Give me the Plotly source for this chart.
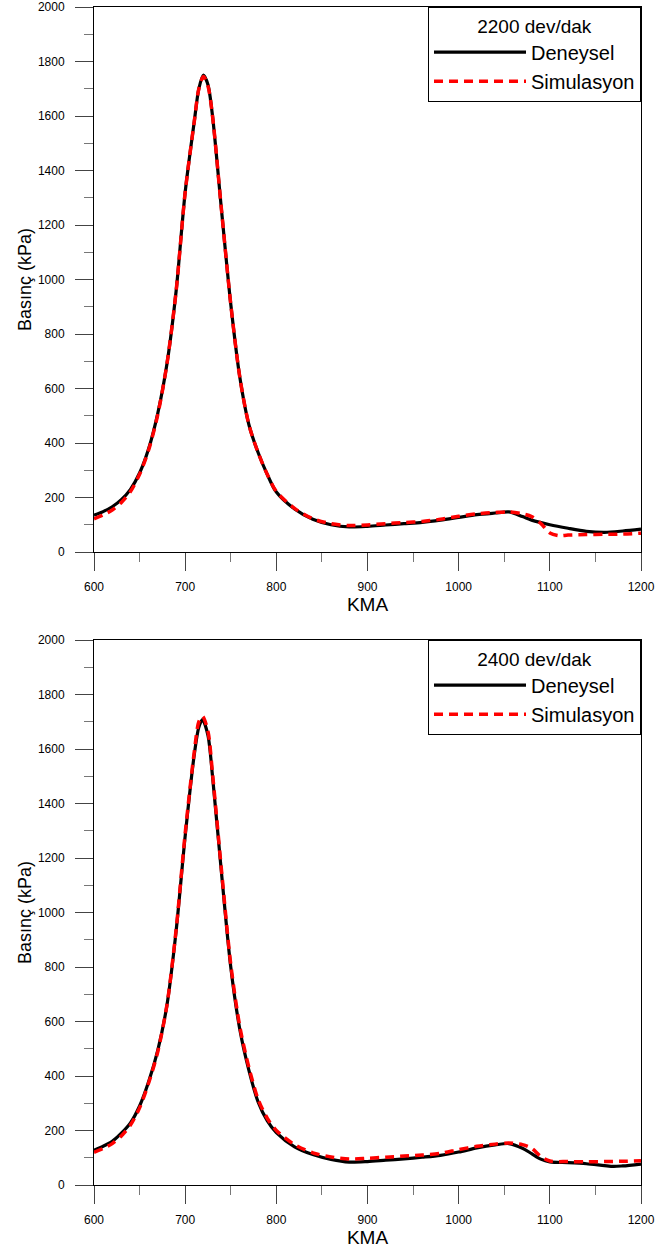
import plotly.graph_objects as go
from plotly.subplots import make_subplots

# ---- Data: 2200 dev/dak ----
kma_exp_2200 = [600, 610, 620, 630, 640, 650, 660, 670, 680, 690, 700, 710, 715, 720, 725, 730, 740, 750, 760, 770, 780, 790, 800, 820, 840, 860, 880, 900, 920, 940, 960, 980, 1000, 1020, 1040, 1055, 1070, 1080, 1100, 1120, 1140, 1160, 1180, 1200]
p_exp_2200 = [135, 148, 166, 192, 230, 290, 380, 510, 690, 955, 1320, 1580, 1700, 1750, 1715, 1600, 1250, 910, 640, 466, 365, 285, 220, 158, 120, 100, 92, 94, 99, 104, 109, 117, 127, 137, 143, 147, 130, 117, 100, 87, 76, 72, 77, 84]

kma_sim_2200 = [600, 610, 620, 630, 640, 650, 660, 670, 680, 690, 700, 710, 715, 720, 725, 730, 740, 750, 760, 770, 780, 790, 800, 820, 840, 860, 880, 900, 920, 940, 960, 980, 1000, 1020, 1040, 1055, 1070, 1080, 1090, 1100, 1110, 1120, 1140, 1160, 1180, 1200]
p_sim_2200 = [122, 136, 154, 182, 222, 285, 375, 505, 690, 955, 1320, 1580, 1700, 1745, 1710, 1600, 1250, 910, 640, 466, 365, 285, 222, 160, 122, 104, 97, 99, 104, 108, 112, 120, 131, 140, 145, 147, 140, 130, 105, 70, 60, 62, 64, 65, 66, 69]

# ---- Data: 2400 dev/dak ----
kma_exp_2400 = [600, 610, 620, 630, 640, 650, 660, 670, 680, 690, 700, 710, 715, 719, 725, 730, 740, 750, 760, 770, 780, 790, 800, 820, 840, 860, 880, 900, 920, 940, 960, 980, 1000, 1020, 1040, 1055, 1070, 1080, 1090, 1100, 1120, 1140, 1160, 1170, 1180, 1200]
p_exp_2400 = [128, 142, 160, 190, 228, 290, 380, 495, 660, 930, 1280, 1580, 1680, 1708, 1650, 1500, 1140, 800, 570, 420, 305, 236, 192, 140, 112, 94, 84, 86, 91, 96, 102, 109, 121, 136, 147, 152, 135, 115, 95, 85, 82, 78, 71, 68, 70, 77]

kma_sim_2400 = [600, 610, 620, 630, 640, 650, 660, 670, 680, 690, 700, 710, 715, 719, 725, 730, 740, 750, 760, 770, 780, 790, 800, 820, 840, 860, 880, 900, 920, 940, 960, 980, 1000, 1020, 1040, 1055, 1070, 1080, 1090, 1100, 1120, 1140, 1160, 1180, 1200]
p_sim_2400 = [120, 134, 152, 180, 220, 283, 375, 490, 660, 935, 1290, 1590, 1700, 1720, 1665, 1510, 1150, 810, 580, 430, 315, 245, 200, 148, 118, 103, 95, 98, 102, 106, 110, 116, 130, 142, 150, 154, 148, 135, 105, 88, 86, 85, 86, 87, 89]

legend_titles = ["2200 dev/dak", "2400 dev/dak"]
series_names = ["Deneysel", "Simulasyon"]
x_ticks = [600, 700, 800, 900, 1000, 1100, 1200]
y_ticks = [0, 200, 400, 600, 800, 1000, 1200, 1400, 1600, 1800, 2000]

W, H = 668, 1251
ML, MR, MT, MB = 94, 27, 7, 66
ph = H - MT - MB
top_dom = [1 - 545 / ph, 1.0]
bot_dom = [0.0, 1 - 633 / ph]

FONT = "Liberation Sans, Arial, sans-serif"

fig = make_subplots(rows=2, cols=1)

datasets = [
    (kma_exp_2200, p_exp_2200, kma_sim_2200, p_sim_2200, "legend"),
    (kma_exp_2400, p_exp_2400, kma_sim_2400, p_sim_2400, "legend2"),
]
for i, (xe, ye, xs, ys, lg) in enumerate(datasets):
    r = i + 1
    fig.add_trace(go.Scatter(x=xe, y=ye, mode="lines", name=series_names[0],
                             line=dict(color="black", width=3.2, shape="spline", smoothing=0.8),
                             legend=lg), row=r, col=1)
    fig.add_trace(go.Scatter(x=xs, y=ys, mode="lines", name=series_names[1],
                             line=dict(color="#ff0000", width=3.5, dash="9px,6px", shape="spline", smoothing=0.8),
                             legend=lg), row=r, col=1)

axis_common = dict(
    showgrid=False, zeroline=False, automargin=False,
    showline=True, linecolor="black", linewidth=1, mirror=True,
    ticks="outside", ticklen=18, tickwidth=1, tickcolor="#444",
    tickfont=dict(family=FONT, size=12, color="black"),
)
for r in (1, 2):
    fig.update_xaxes(range=[600, 1200], tickvals=x_ticks,
                     minor=dict(dtick=50, tick0=600, ticks="outside", ticklen=9, tickcolor="#777", tickwidth=1),
                     title=dict(text="KMA", font=dict(family=FONT, size=19, color="black"), standoff=2),
                     ticklabelstandoff=6,
                     row=r, col=1, **axis_common)
    fig.update_yaxes(range=[0, 2000], tickvals=y_ticks,
                     minor=dict(dtick=100, tick0=0, ticks="outside", ticklen=9, tickcolor="#777", tickwidth=1),
                     title=dict(text="Basınç (kPa)", font=dict(family=FONT, size=18, color="black"), standoff=1),
                     ticklabelstandoff=8,
                     row=r, col=1, **axis_common)

fig.update_yaxes(domain=top_dom, row=1, col=1)
fig.update_yaxes(domain=bot_dom, row=2, col=1)

leg_common = dict(
    bgcolor="white", bordercolor="black", borderwidth=1,
    font=dict(family=FONT, size=20, color="black"),
    xanchor="right", x=1.0, yanchor="top",
    itemwidth=92,
    tracegroupgap=0,
)
fig.update_layout(
    width=W, height=H, autosize=False,
    margin=dict(l=ML, r=MR, t=MT, b=MB),
    plot_bgcolor="white", paper_bgcolor="white",
    font=dict(family=FONT, color="black"),
    legend=dict(y=top_dom[1], title=dict(text=legend_titles[0], side="top center",
                                          font=dict(family=FONT, size=19)), **leg_common),
    legend2=dict(y=bot_dom[1], title=dict(text=legend_titles[1], side="top center",
                                           font=dict(family=FONT, size=19)), **leg_common),
)

fig.write_html("out.html", config={"displayModeBar": False},
               post_script="document.body.style.margin='0px';")
